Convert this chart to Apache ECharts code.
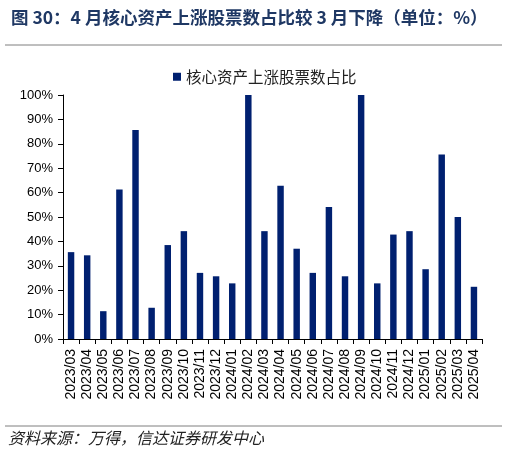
<!DOCTYPE html>
<html>
<head>
<meta charset="utf-8">
<script src="https://cdn.jsdelivr.net/npm/echarts@6/dist/echarts.min.js"></script>
<style>
  html, body { margin: 0; padding: 0; background: #fff; }
  #chart { width: 507px; height: 454px; }
</style>
</head>
<body>
<div id="chart"></div>
<script>
const months = [
  "2023/03", "2023/04", "2023/05", "2023/06", "2023/07", "2023/08", "2023/09",
  "2023/10", "2023/11", "2023/12", "2024/01", "2024/02", "2024/03", "2024/04",
  "2024/05", "2024/06", "2024/07", "2024/08", "2024/09", "2024/10", "2024/11",
  "2024/12", "2025/01", "2025/02", "2025/03", "2025/04"
];
// 核心资产上涨股票数占比 (%)
const shareUp = [
  35.6, 34.3, 11.4, 61.3, 85.7, 12.8, 38.5, 44.2, 27.1, 25.7, 22.8, 100,
  44.2, 62.8, 37.0, 27.1, 54.1, 25.7, 100, 22.8, 42.8, 44.2, 28.6, 75.6,
  50.0, 21.4
];
const seriesName = "核心资产上涨股票数占比";

const chart = echarts.init(document.getElementById("chart"));
chart.setOption({
  animation: false,
  title: {
    text: "图 30：4 月核心资产上涨股票数占比较 3 月下降（单位：%）",
    left: 6,
    top: 4,
    textStyle: {
      fontFamily: "Noto Sans CJK SC",
      fontSize: 17.5,
      fontWeight: "bold",
      color: "#1F3864"
    }
  },
  graphic: [
    { type: "line", shape: { x1: 5, y1: 45, x2: 502, y2: 45 }, style: { stroke: "#7f7f7f", lineWidth: 1 } },
    { type: "line", shape: { x1: 5, y1: 426, x2: 502, y2: 426 }, style: { stroke: "#7f7f7f", lineWidth: 1 } },
    {
      type: "text", left: 8, top: 430,
      style: {
        text: "资料来源：万得，信达证券研发中心",
        font: "italic 16px 'Noto Sans CJK SC'",
        fill: "#222"
      }
    }
  ],
  legend: {
    data: [seriesName],
    top: 64,
    left: 168,
    icon: "rect",
    itemWidth: 8,
    itemHeight: 8,
    itemGap: 4,
    textStyle: { fontFamily: "Noto Sans CJK SC", fontSize: 15.5, color: "#222" }
  },
  grid: { left: 63, right: 25, top: 95, bottom: 115 },
  xAxis: {
    type: "category",
    data: months.slice(0, shareUp.length),
    axisLine: { lineStyle: { color: "#000" } },
    axisTick: { show: true, length: 5, lineStyle: { color: "#000" } },
    axisLabel: {
      rotate: 90,
      interval: 0,
      margin: 10,
      fontFamily: "Liberation Sans",
      fontSize: 14,
      color: "#000"
    }
  },
  yAxis: {
    type: "value",
    min: 0,
    max: 100,
    interval: 10,
    splitLine: { show: false },
    axisLine: { show: true, lineStyle: { color: "#000" } },
    axisTick: { show: true, length: 5, lineStyle: { color: "#000" } },
    axisLabel: {
      formatter: "{value}%",
      margin: 10,
      fontFamily: "Liberation Sans",
      fontSize: 13,
      color: "#000"
    }
  },
  series: [{
    name: seriesName,
    type: "bar",
    data: shareUp,
    barWidth: "40%",
    itemStyle: { color: "#002070" }
  }]
});
</script>
</body>
</html>
